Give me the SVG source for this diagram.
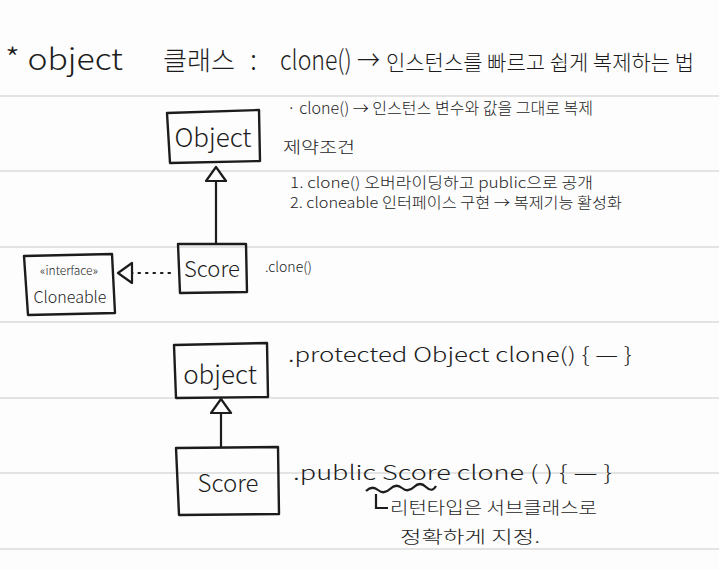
<svg xmlns="http://www.w3.org/2000/svg" width="719" height="570" viewBox="0 0 719 570">
<style>
.t{font-family:"Noto Sans CJK KR","Noto Sans",sans-serif;fill:#1c1c1c}
.lt{font-weight:300}
.box{fill:none;stroke:#1c1c1c;stroke-width:2.4;stroke-linejoin:round}
.rule{stroke:#e3e3e3;stroke-width:2}
.edge{fill:none;stroke:#1c1c1c;stroke-width:2.2}
</style>
<defs>
<marker id="tri" markerUnits="userSpaceOnUse" markerWidth="18" markerHeight="24" refX="16" refY="11" orient="auto">
<path d="M2,1 L16,11 L2,21 Z" fill="#fdfdfd" stroke="#1c1c1c" stroke-width="2.2" stroke-linejoin="round"/>
</marker>
</defs>
<rect width="719" height="570" fill="#fdfdfd"/>
<g id="rules">
<line class="rule" x1="0" y1="96" x2="719" y2="96"/>
<line class="rule" x1="0" y1="171" x2="719" y2="171"/>
<line class="rule" x1="0" y1="247" x2="719" y2="247"/>
<line class="rule" x1="0" y1="322" x2="719" y2="322"/>
<line class="rule" x1="0" y1="398" x2="719" y2="398"/>
<line class="rule" x1="0" y1="473" x2="719" y2="473"/>
<line class="rule" x1="0" y1="549" x2="719" y2="549"/>
</g>
<g id="title">
<text class="t lt" x="5" y="70" font-size="30" textLength="118" lengthAdjust="spacingAndGlyphs">* object</text>
<text class="t lt" x="163" y="70" font-size="26" textLength="72" lengthAdjust="spacingAndGlyphs">클래스</text>
<text class="t lt" x="250" y="70" font-size="28">:</text>
<text class="t lt" x="280" y="70" font-size="27" textLength="100" lengthAdjust="spacingAndGlyphs">clone() →</text>
<text class="t lt" x="386" y="70" font-size="21" textLength="308" lengthAdjust="spacingAndGlyphs">인스턴스를 빠르고 쉽게 복제하는 법</text>
</g>
<g id="connectors">
<line class="edge" x1="216" y1="243" x2="216" y2="167" marker-end="url(#tri)"/>
<line class="edge" x1="170" y1="273" x2="118" y2="273" stroke-dasharray="1.5 6" stroke-linecap="round" marker-end="url(#tri)"/>
<line class="edge" x1="221" y1="447" x2="221" y2="399" marker-end="url(#tri)"/>
</g>
<g id="node-object-top">
<path class="box" d="M167,113 L259,110 L260,161 L170,163 Z"/>
<text class="t lt" x="213" y="147" font-size="26" text-anchor="middle">Object</text>
</g>
<g id="node-score-top">
<path class="box" d="M178,244 L246,244 L247,292 L180,293 Z"/>
<text class="t lt" x="212" y="277" font-size="22" text-anchor="middle">Score</text>
</g>
<g id="node-cloneable">
<path class="box" d="M24,256 L112,254 L115,313 L28,315 Z"/>
<text class="t lt" x="69" y="275" font-size="12" text-anchor="middle">«interface»</text>
<text class="t lt" x="70" y="303" font-size="16" text-anchor="middle">Cloneable</text>
</g>
<g id="node-object-bottom">
<path class="box" d="M174,345 L267,343 L268,397 L176,398 Z"/>
<text class="t lt" x="220" y="384" font-size="26" text-anchor="middle">object</text>
</g>
<g id="node-score-bottom">
<path class="box" d="M176,448 L278,447 L279,514 L179,515 Z"/>
<text class="t lt" x="228" y="492" font-size="24" text-anchor="middle">Score</text>
</g>
<g id="notes">
<text class="t lt" x="287" y="114" font-size="16" textLength="306" lengthAdjust="spacingAndGlyphs">· clone() → 인스턴스 변수와 값을 그대로 복제</text>
<text class="t lt" x="283" y="153" font-size="16" textLength="72" lengthAdjust="spacingAndGlyphs">제약조건</text>
<text class="t lt" x="290" y="188" font-size="15" textLength="303" lengthAdjust="spacingAndGlyphs">1. clone() 오버라이딩하고 public으로 공개</text>
<text class="t lt" x="290" y="208" font-size="15" textLength="332" lengthAdjust="spacingAndGlyphs">2. cloneable 인터페이스 구현 → 복제기능 활성화</text>
<text class="t lt" x="265" y="272" font-size="14">.clone()</text>
<text class="t lt" x="288" y="362" font-size="20" textLength="344" lengthAdjust="spacingAndGlyphs">.protected Object  clone() { — }</text>
<text class="t lt" x="293" y="480" font-size="20" textLength="319" lengthAdjust="spacingAndGlyphs">.public Score  clone ( ) { — }</text>
<path class="edge" d="M366,491 q6,-6 12,-1 t12,-1 t12,-1 t12,-1 t12,0 t10,-1" stroke-width="1.8"/>
<path class="edge" d="M376,494 L376,508 L388,508" stroke-width="1.8"/>
<text class="t lt" x="390" y="514" font-size="17" textLength="207" lengthAdjust="spacingAndGlyphs">리턴타입은 서브클래스로</text>
<text class="t lt" x="400" y="543" font-size="17" textLength="140" lengthAdjust="spacingAndGlyphs">정확하게  지정.</text>
</g>
</svg>
